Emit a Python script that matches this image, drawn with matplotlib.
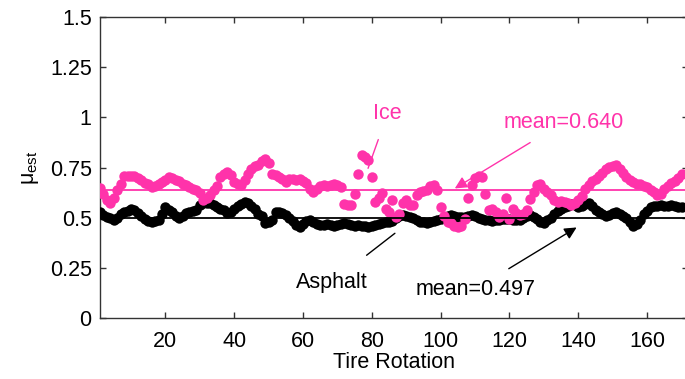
import matplotlib
matplotlib.use("Agg")
import matplotlib.pyplot as plt
import numpy as np

plt.rcParams['font.family'] = ['Liberation Sans', 'DejaVu Sans']
plt.rcParams['mathtext.fontset'] = 'custom'
plt.rcParams['mathtext.rm'] = 'Liberation Sans'
plt.rcParams['mathtext.it'] = 'Liberation Sans:italic'

# friction estimate per tire rotation
rotation = np.arange(1, 171)

mu_ice = [
    0.65, 0.62, 0.59, 0.575, 0.60, 0.64, 0.67, 0.71, 0.71, 0.71,
    0.71, 0.70, 0.69, 0.675, 0.67, 0.655, 0.66, 0.67, 0.68, 0.69,
    0.705, 0.70, 0.69, 0.685, 0.67, 0.665, 0.655, 0.645, 0.64, 0.625,
    0.59, 0.60, 0.615, 0.64, 0.66, 0.705, 0.72, 0.73, 0.715, 0.68,
    0.67, 0.665, 0.69, 0.72, 0.745, 0.76, 0.765, 0.78, 0.79, 0.77,
    0.72, 0.715, 0.705, 0.695, 0.68, 0.695, 0.695, 0.69, 0.695, 0.685,
    0.675, 0.645, 0.63, 0.645, 0.66, 0.665, 0.66, 0.665, 0.67, 0.665,
    0.655, 0.57, 0.565, 0.565, 0.62, 0.72, 0.81, 0.80, 0.785, 0.705,
    0.58, 0.60, 0.625, 0.545, 0.53, 0.59, 0.505, 0.52, 0.575, 0.59,
    0.565, 0.565, 0.615, 0.63, 0.635, 0.64, 0.66, 0.665, 0.64, 0.555,
    0.51, 0.48, 0.475, 0.46, 0.455, 0.46, 0.495, 0.60, 0.665, 0.70,
    0.71, 0.705, 0.62, 0.54, 0.545, 0.53, 0.505, 0.52, 0.60, 0.495,
    0.545, 0.525, 0.515, 0.52, 0.54, 0.595, 0.63, 0.665, 0.67, 0.645,
    0.63, 0.615, 0.59, 0.58, 0.585, 0.58, 0.575, 0.565, 0.575, 0.59,
    0.61, 0.645, 0.665, 0.685, 0.695, 0.71, 0.725, 0.745, 0.755, 0.76,
    0.765, 0.745, 0.725, 0.705, 0.69, 0.68, 0.67, 0.67, 0.66, 0.655,
    0.64, 0.63, 0.615, 0.62, 0.645, 0.66, 0.675, 0.685, 0.70, 0.72,
]

mu_asphalt = [
    0.53, 0.515, 0.505, 0.50, 0.49, 0.50, 0.52, 0.53, 0.535, 0.545,
    0.54, 0.525, 0.51, 0.495, 0.485, 0.48, 0.485, 0.49, 0.52, 0.555,
    0.54, 0.53, 0.51, 0.50, 0.51, 0.525, 0.53, 0.535, 0.54, 0.565,
    0.575, 0.575, 0.575, 0.565, 0.555, 0.545, 0.54, 0.525, 0.53, 0.545,
    0.56, 0.57, 0.58, 0.575, 0.56, 0.545, 0.52, 0.51, 0.475, 0.48,
    0.49, 0.53, 0.53, 0.525, 0.515, 0.50, 0.485, 0.465, 0.455, 0.47,
    0.485, 0.49, 0.48, 0.47, 0.465, 0.465, 0.47, 0.465, 0.46, 0.465,
    0.47, 0.475, 0.47, 0.465, 0.46, 0.465, 0.46, 0.46, 0.455, 0.46,
    0.465, 0.47, 0.475, 0.48, 0.48, 0.485, 0.50, 0.51, 0.515, 0.51,
    0.505, 0.50, 0.49, 0.48, 0.48, 0.475, 0.48, 0.485, 0.49, 0.495,
    0.505, 0.51, 0.515, 0.51, 0.505, 0.505, 0.505, 0.51, 0.515, 0.51,
    0.50, 0.495, 0.49, 0.49, 0.485, 0.49, 0.49, 0.495, 0.495, 0.495,
    0.49, 0.49, 0.49, 0.50, 0.51, 0.515, 0.505, 0.495, 0.48, 0.475,
    0.49, 0.50, 0.52, 0.535, 0.545, 0.555, 0.56, 0.57, 0.565, 0.555,
    0.56, 0.57, 0.575, 0.56, 0.54, 0.53, 0.52, 0.51, 0.515, 0.525,
    0.53, 0.52, 0.51, 0.50, 0.48, 0.46, 0.47, 0.49, 0.52, 0.535,
    0.555, 0.56, 0.56, 0.565, 0.56, 0.56, 0.565, 0.56, 0.555, 0.555,
]

ice_mean = 0.640
asphalt_mean = 0.497

yticks = [0, 0.25, 0.5, 0.75, 1, 1.25, 1.5]
ytick_labels = ['0', '0.25', '0.5', '0.75', '1', '1.25', '1.5']
xticks = [20, 40, 60, 80, 100, 120, 140, 160]

pink = '#ff33aa'
fs = 15.5

fig = plt.figure(figsize=(6.85, 3.79), dpi=100)
# right border sits just past the figure edge
ax = fig.add_axes([0.146, 0.160, 0.859, 0.796])

ax.plot(rotation, mu_asphalt, 'o', color='black', ms=7.5, mew=0, zorder=3)
ax.plot(rotation, mu_ice, 'o', color=pink, ms=7.5, mew=0, zorder=4)
ax.axhline(asphalt_mean, color='black', lw=1.3, zorder=5)
ax.axhline(ice_mean, color=pink, lw=1.3, zorder=5)

ax.set_xlim(1, 172)
ax.set_ylim(0, 1.5)
ax.set_xticks(xticks)
ax.set_yticks(yticks)
ax.set_yticklabels(ytick_labels)
ax.tick_params(direction='in', length=4, width=1, labelsize=fs,
               top=True, right=True, color='#333333')
ax.tick_params(axis='x', pad=9)
ax.tick_params(axis='y', pad=6)
for s in ax.spines.values():
    s.set_linewidth(1)
    s.set_color('#333333')

ax.set_xlabel('Tire Rotation', fontsize=fs, labelpad=0)
ax.set_ylabel('μ$_{\\rm est}$', fontsize=fs, labelpad=6)

# annotations
ax.annotate('Ice', xy=(78.9, 0.746), xytext=(84.6, 1.02), color=pink,
            fontsize=fs, ha='center', va='center',
            arrowprops=dict(arrowstyle='-', color=pink, lw=1,
                            shrinkA=10, shrinkB=0))
ax.annotate('mean=%.3f' % ice_mean, xy=(104.1, 0.646), xytext=(135.8, 0.976),
            color=pink, fontsize=fs, ha='center', va='center',
            arrowprops=dict(arrowstyle='-|>', color=pink, lw=1,
                            mutation_scale=18, shrinkA=10, shrinkB=0))
ax.annotate('Asphalt', xy=(86.7, 0.423), xytext=(68.4, 0.18), color='black',
            fontsize=fs, ha='center', va='center',
            arrowprops=dict(arrowstyle='-', color='black', lw=1,
                            shrinkA=16, shrinkB=0))
ax.annotate('mean=%.3f' % asphalt_mean, xy=(139.5, 0.452), xytext=(110.0, 0.145),
            color='black', fontsize=fs, ha='center', va='center',
            arrowprops=dict(arrowstyle='-|>', color='black', lw=1,
                            mutation_scale=18, shrinkA=10, shrinkB=0))

fig.savefig('out.png', dpi=100)
